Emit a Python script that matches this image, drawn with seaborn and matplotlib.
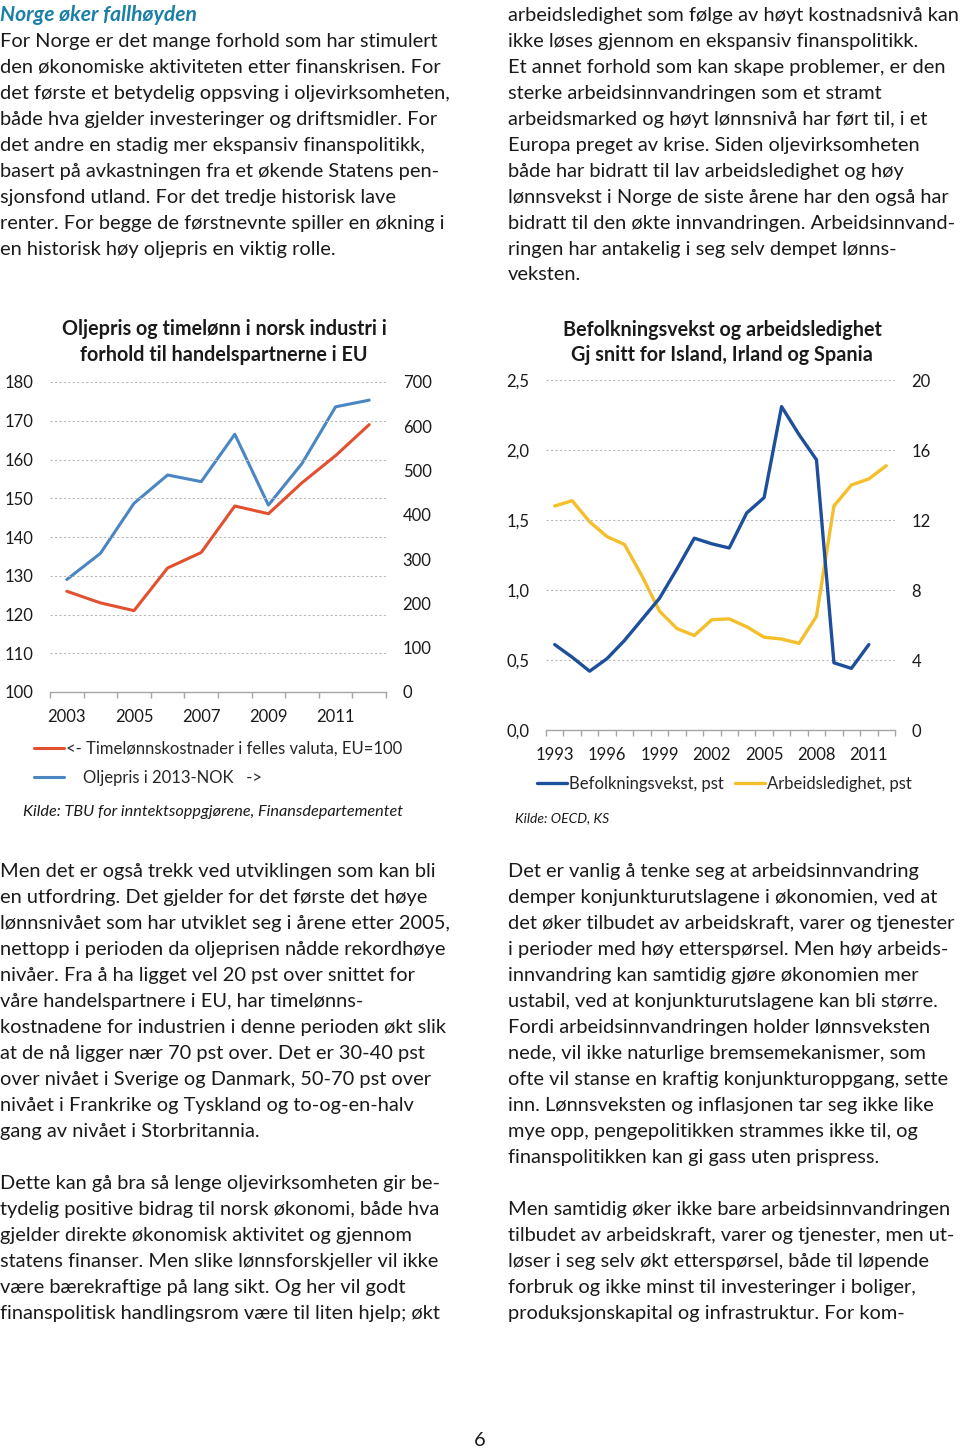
import numpy as np
import pandas as pd
import matplotlib
matplotlib.use("Agg")
import matplotlib.pyplot as plt
import seaborn as sns

# --- chart data ---
years_left = [2003, 2004, 2005, 2006, 2007, 2008, 2009, 2010, 2011, 2012]
wage_index = [126, 123, 121, 132, 136, 148, 146, 154, 161, 169]
oil_price = [254, 313, 426, 490, 475, 582, 422, 516, 644, 659]

years_right = [1993, 1994, 1995, 1996, 1997, 1998, 1999, 2000, 2001, 2002,
               2003, 2004, 2005, 2006, 2007, 2008, 2009, 2010, 2011, 2012]
pop_growth = [0.61, 0.52, 0.42, 0.51, 0.64, 0.79, 0.94, 1.15, 1.37, 1.33,
              1.30, 1.55, 1.66, 2.31, 2.11, 1.93, 0.48, 0.44, 0.61, np.nan]
unemployment = [12.8, 13.1, 11.9, 11.05, 10.6, 8.8, 6.8, 5.8, 5.4, 6.3,
                6.35, 5.9, 5.3, 5.2, 4.95, 6.5, 12.8, 14.0, 14.35, 15.1]

left_label_years = ["2003", "2005", "2007", "2009", "2011"]
right_label_years = ["1993", "1996", "1999", "2002", "2005", "2008", "2011"]

# --- page text ---
heading = "Norge øker fallhøyden"
col1_top = [
    "For Norge er det mange forhold som har stimulert",
    "den økonomiske aktiviteten etter finanskrisen. For",
    "det første et betydelig oppsving i oljevirksomheten,",
    "både hva gjelder investeringer og driftsmidler. For",
    "det andre en stadig mer ekspansiv finanspolitikk,",
    "basert på avkastningen fra et økende Statens pen-",
    "sjonsfond utland. For det tredje historisk lave",
    "renter. For begge de førstnevnte spiller en økning i",
    "en historisk høy oljepris en viktig rolle.",
]
col2_top = [
    "arbeidsledighet som følge av høyt kostnadsnivå kan",
    "ikke løses gjennom en ekspansiv finanspolitikk.",
    "Et annet forhold som kan skape problemer, er den",
    "sterke arbeidsinnvandringen som et stramt",
    "arbeidsmarked og høyt lønnsnivå har ført til, i et",
    "Europa preget av krise. Siden oljevirksomheten",
    "både har bidratt til lav arbeidsledighet og høy",
    "lønnsvekst i Norge de siste årene har den også har",
    "bidratt til den økte innvandringen. Arbeidsinnvand-",
    "ringen har antakelig i seg selv dempet lønns-",
    "veksten.",
]
col1_bottom = [
    "Men det er også trekk ved utviklingen som kan bli",
    "en utfordring. Det gjelder for det første det høye",
    "lønnsnivået som har utviklet seg i årene etter 2005,",
    "nettopp i perioden da oljeprisen nådde rekordhøye",
    "nivåer. Fra å ha ligget vel 20 pst over snittet for",
    "våre handelspartnere i EU, har timelønns-",
    "kostnadene for industrien i denne perioden økt slik",
    "at de nå ligger nær 70 pst over. Det er 30-40 pst",
    "over nivået i Sverige og Danmark, 50-70 pst over",
    "nivået i Frankrike og Tyskland og to-og-en-halv",
    "gang av nivået i Storbritannia.",
    "",
    "Dette kan gå bra så lenge oljevirksomheten gir be-",
    "tydelig positive bidrag til norsk økonomi, både hva",
    "gjelder direkte økonomisk aktivitet og gjennom",
    "statens finanser. Men slike lønnsforskjeller vil ikke",
    "være bærekraftige på lang sikt. Og her vil godt",
    "finanspolitisk handlingsrom være til liten hjelp; økt",
]
col2_bottom = [
    "Det er vanlig å tenke seg at arbeidsinnvandring",
    "demper konjunkturutslagene i økonomien, ved at",
    "det øker tilbudet av arbeidskraft, varer og tjenester",
    "i perioder med høy etterspørsel. Men høy arbeids-",
    "innvandring kan samtidig gjøre økonomien mer",
    "ustabil, ved at konjunkturutslagene kan bli større.",
    "Fordi arbeidsinnvandringen holder lønnsveksten",
    "nede, vil ikke naturlige bremsemekanismer, som",
    "ofte vil stanse en kraftig konjunkturoppgang, sette",
    "inn. Lønnsveksten og inflasjonen tar seg ikke like",
    "mye opp, pengepolitikken strammes ikke til, og",
    "finanspolitikken kan gi gass uten prispress.",
    "",
    "Men samtidig øker ikke bare arbeidsinnvandringen",
    "tilbudet av arbeidskraft, varer og tjenester, men ut-",
    "løser i seg selv økt etterspørsel, både til løpende",
    "forbruk og ikke minst til investeringer i boliger,",
    "produksjonskapital og infrastruktur. For kom-",
]

sns.set_theme(style="white")
plt.rcParams["font.family"] = ["Lato", "DejaVu Sans"]

W, H = 960, 1451
fig = plt.figure(figsize=(W / 100, H / 100), dpi=100)
fig.patch.set_facecolor("white")

BODY = 14.4
TEXT_COLOR = "#1a1a1a"
LINE_H = 26


def px(x, y):
    return x / W, 1 - y / H


def put_lines(lines, x, y0):
    for i, s in enumerate(lines):
        if s:
            fig.text(*px(x, y0 + i * LINE_H), s, fontsize=BODY,
                     color=TEXT_COLOR, va="center", ha="left")


fig.text(*px(0, 15), heading, fontsize=15.2, color="#1B7FA6",
         fontweight="bold", fontstyle="italic", va="center", ha="left")
put_lines(col1_top, 0, 41)
put_lines(col2_top, 508, 15)
put_lines(col1_bottom, 0, 872)
put_lines(col2_bottom, 508, 872)
fig.text(*px(480, 1441), "6", fontsize=BODY, color=TEXT_COLOR, va="center", ha="center")

GRID = "#BBBBBB"
TICK_FS = 12
TITLE_FS = 14.2
LEG_FS = 12


def style_axes(ax, ax2):
    for a in (ax, ax2):
        for side in ("top", "left", "right", "bottom"):
            a.spines[side].set_visible(False)
        a.set_xlabel("")
        a.set_ylabel("")
    ax.spines["bottom"].set_visible(True)
    ax.spines["bottom"].set_color("#A6A6A6")
    ax.spines["bottom"].set_linewidth(1.0)
    ax.yaxis.grid(True, color=GRID, linestyle=(0, (2, 2)), linewidth=0.8)
    ax.xaxis.grid(False)
    ax2.grid(False)
    ax.tick_params(axis="y", length=0, pad=12, labelsize=TICK_FS, colors="#1a1a1a")
    ax2.tick_params(axis="y", length=0, pad=12, labelsize=TICK_FS, colors="#1a1a1a")
    ax.tick_params(axis="x", which="major", length=0, pad=12.5, labelsize=TICK_FS,
                   colors="#1a1a1a")
    ax.tick_params(axis="x", which="minor", length=4, width=1.0, color="#A6A6A6",
                   direction="out", bottom=True)
    for lab in ax2.get_yticklabels():
        lab.set_horizontalalignment("left")


# ---------------- left chart ----------------
df_left = pd.DataFrame({"year": years_left, "wage": wage_index, "oil": oil_price})
ax1 = fig.add_axes([50 / W, 1 - 692 / H, 336 / W, 310 / H])
ax1b = ax1.twinx()
sns.lineplot(data=df_left, x="year", y="wage", ax=ax1, color="#E2502F", linewidth=2.2,
             label="<- Timelønnskostnader i felles valuta, EU=100", legend=False)
sns.lineplot(data=df_left, x="year", y="oil", ax=ax1b, color="#4A86C2", linewidth=2.2,
             label="    Oljepris i 2013-NOK   ->", legend=False)
ax1.set_xlim(years_left[0] - 0.5, years_left[-1] + 0.5)
ax1.set_ylim(100, 180)
ax1.set_yticks(range(100, 181, 10))
ax1b.set_ylim(0, 700)
ax1b.set_yticks(range(0, 701, 100))
ax1.set_xticks([int(y) for y in left_label_years])
ax1.set_xticklabels(left_label_years)
ax1.set_xticks(np.arange(years_left[0] - 0.5, years_left[-1] + 1, 1.0), minor=True)
style_axes(ax1, ax1b)
ax1.set_zorder(ax1b.get_zorder() + 1)
ax1.patch.set_visible(False)

fig.text(*px(224, 329), "Oljepris og timelønn i norsk industri i", fontsize=TITLE_FS,
         fontweight="bold", ha="center", va="center", color="#1a1a1a")
fig.text(*px(224, 355), "forhold til handelspartnerne i EU", fontsize=TITLE_FS,
         fontweight="bold", ha="center", va="center", color="#1a1a1a")

h1, l1 = ax1.get_legend_handles_labels()
h2, l2 = ax1b.get_legend_handles_labels()
fig.legend(h1 + h2, l1 + l2, loc="upper left", bbox_to_anchor=px(34, 741),
           frameon=False, fontsize=LEG_FS, handlelength=1.8, handletextpad=0.1,
           labelspacing=0.75, borderaxespad=0, borderpad=0)
fig.text(*px(23, 812), "Kilde: TBU for inntektsoppgjørene, Finansdepartementet",
         fontsize=11.7, fontstyle="italic", ha="left", va="center", color="#1a1a1a")

# ---------------- right chart ----------------
df_right = pd.DataFrame({"year": years_right, "pop": pop_growth, "unemp": unemployment})
ax2 = fig.add_axes([546 / W, 1 - 730 / H, 349 / W, 350 / H])
ax2b = ax2.twinx()
sns.lineplot(data=df_right, x="year", y="pop", ax=ax2, color="#1D4F9B", linewidth=2.4,
             label="Befolkningsvekst, pst", legend=False)
sns.lineplot(data=df_right, x="year", y="unemp", ax=ax2b, color="#F4BF2A", linewidth=2.4,
             label="Arbeidsledighet, pst", legend=False)
ax2.set_xlim(years_right[0] - 0.5, years_right[-1] + 0.5)
ax2.set_ylim(0, 2.5)
ax2.set_yticks([0, 0.5, 1.0, 1.5, 2.0, 2.5])
ax2.set_yticklabels(["0,0", "0,5", "1,0", "1,5", "2,0", "2,5"])
ax2b.set_ylim(0, 20)
ax2b.set_yticks(range(0, 21, 4))
ax2.set_xticks([int(y) for y in right_label_years])
ax2.set_xticklabels(right_label_years)
ax2.set_xticks(np.arange(years_right[0] - 0.5, years_right[-1] + 1, 1.0), minor=True)
style_axes(ax2, ax2b)
ax2.set_zorder(ax2b.get_zorder() + 1)
ax2.patch.set_visible(False)

fig.text(*px(722, 330), "Befolkningsvekst og arbeidsledighet", fontsize=TITLE_FS,
         fontweight="bold", ha="center", va="center", color="#1a1a1a")
fig.text(*px(722, 355), "Gj snitt for Island, Irland og Spania", fontsize=TITLE_FS,
         fontweight="bold", ha="center", va="center", color="#1a1a1a")

h1, l1 = ax2.get_legend_handles_labels()
h2, l2 = ax2b.get_legend_handles_labels()
fig.legend(h1 + h2, l1 + l2, loc="upper left", bbox_to_anchor=px(537, 776),
           frameon=False, fontsize=LEG_FS, handlelength=1.8, handletextpad=0.1,
           columnspacing=0.7, ncol=2, borderaxespad=0, borderpad=0)
fig.text(*px(515, 818), "Kilde: OECD, KS", fontsize=10, fontstyle="italic",
         ha="left", va="center", color="#1a1a1a")

fig.savefig("out.png", dpi=100, facecolor="white")
